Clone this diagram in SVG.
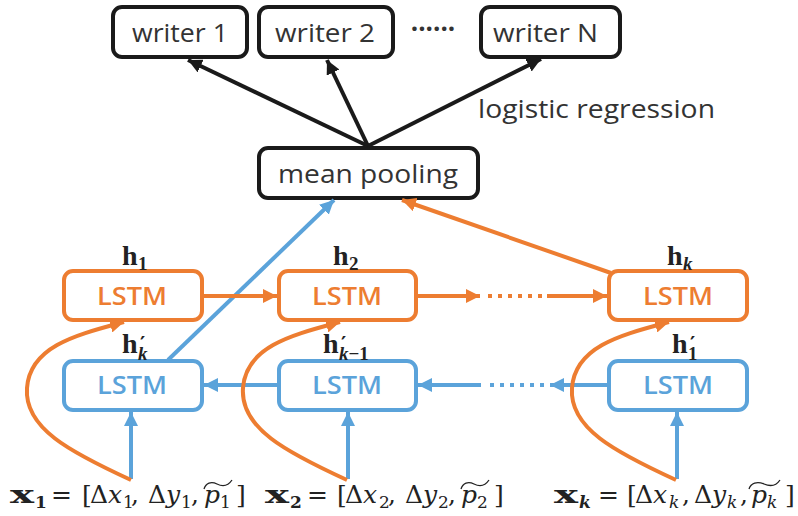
<svg xmlns="http://www.w3.org/2000/svg" width="798" height="516" viewBox="0 0 798 516">
  <style>
    .blk { fill: #fff; stroke: #1a1a1a; stroke-width: 4; }
    .org { fill: #fff; stroke: #ED7D31; stroke-width: 4; }
    .blu { fill: #fff; stroke: #5BA3DA; stroke-width: 4; }
    .lbl { font-family: "Open Sans", "Liberation Sans", sans-serif; font-size: 26px; fill: #333; }
    .lstm { font-family: "Open Sans", "Liberation Sans", sans-serif; font-size: 26px; font-weight: 600; }
    .math { font-family: "Liberation Serif", "DejaVu Serif", serif; font-size: 28px; fill: #222; }
    .vec { font-family: "DejaVu Serif", "Liberation Serif", serif; font-size: 25px; fill: #222; }
    .b { font-weight: bold; }
    .it { font-style: italic; }
    .sub { font-size: 19px; }
    .vec .sub { font-size: 17px; }
    .prm { font-family: "DejaVu Sans", sans-serif; font-size: 20px; font-weight: bold; }
    .lnk { fill: none; stroke-width: 4; }
    .tld { fill: none; stroke: #222; stroke-width: 1.3; }
  </style>
  <defs>
    <marker id="ahK" markerUnits="userSpaceOnUse" markerWidth="16" markerHeight="14" refX="14" refY="7" orient="auto">
      <path d="M0,0 L14,7 L0,14 Z" fill="#1a1a1a"/>
    </marker>
    <marker id="ahO" markerUnits="userSpaceOnUse" markerWidth="16" markerHeight="14" refX="14" refY="7" orient="auto">
      <path d="M0,0 L14,7 L0,14 Z" fill="#ED7D31"/>
    </marker>
    <marker id="ahB" markerUnits="userSpaceOnUse" markerWidth="16" markerHeight="14" refX="14" refY="7" orient="auto">
      <path d="M0,0 L14,7 L0,14 Z" fill="#5BA3DA"/>
    </marker>
  </defs>

  <!-- output classes -->
  <g id="writer1">
    <rect class="blk" x="113" y="7" width="134" height="50" rx="9"/>
    <text class="lbl" x="132" y="42" textLength="96" lengthAdjust="spacingAndGlyphs">writer 1</text>
  </g>
  <g id="writer2">
    <rect class="blk" x="259" y="7" width="134" height="50" rx="9"/>
    <text class="lbl" x="275" y="42" textLength="100" lengthAdjust="spacingAndGlyphs">writer 2</text>
  </g>
  <text class="lbl" x="433" y="38" text-anchor="middle" font-weight="bold">······</text>
  <g id="writerN">
    <rect class="blk" x="481" y="7" width="139" height="50" rx="9"/>
    <text class="lbl" x="493" y="42" textLength="105" lengthAdjust="spacingAndGlyphs">writer N</text>
  </g>
  <text class="lbl" x="478" y="118" textLength="237" lengthAdjust="spacingAndGlyphs">logistic regression</text>

  <g id="meanPooling">
    <rect class="blk" x="259" y="148" width="219" height="50" rx="9"/>
    <text class="lbl" x="278" y="183" textLength="180" lengthAdjust="spacingAndGlyphs">mean pooling</text>
  </g>

  <!-- forward LSTM row -->
  <g id="fwd1">
    <rect class="org" x="64" y="271" width="138" height="49" rx="9"/>
    <text class="lstm" x="97" y="305" textLength="70" lengthAdjust="spacingAndGlyphs" fill="#ED7D31">LSTM</text>
  </g>
  <g id="fwd2">
    <rect class="org" x="279" y="271" width="137" height="49" rx="9"/>
    <text class="lstm" x="312" y="305" textLength="70" lengthAdjust="spacingAndGlyphs" fill="#ED7D31">LSTM</text>
  </g>
  <g id="fwdk">
    <rect class="org" x="609" y="271" width="138" height="49" rx="9"/>
    <text class="lstm" x="643" y="305" textLength="70" lengthAdjust="spacingAndGlyphs" fill="#ED7D31">LSTM</text>
  </g>

  <!-- backward LSTM row -->
  <g id="bwd1">
    <rect class="blu" x="64" y="361" width="138" height="49" rx="9"/>
    <text class="lstm" x="97" y="394" textLength="70" lengthAdjust="spacingAndGlyphs" fill="#5BA3DA">LSTM</text>
  </g>
  <g id="bwd2">
    <rect class="blu" x="279" y="361" width="137" height="49" rx="9"/>
    <text class="lstm" x="312" y="394" textLength="70" lengthAdjust="spacingAndGlyphs" fill="#5BA3DA">LSTM</text>
  </g>
  <g id="bwdk">
    <rect class="blu" x="609" y="361" width="138" height="49" rx="9"/>
    <text class="lstm" x="643" y="394" textLength="70" lengthAdjust="spacingAndGlyphs" fill="#5BA3DA">LSTM</text>
  </g>

  <!-- hidden-state labels -->
  <g id="hiddenLabels" class="math">
    <text><tspan class="b" x="122" y="265">h</tspan><tspan class="b sub" x="138" y="270">1</tspan></text>
    <text><tspan class="b" x="333" y="265">h</tspan><tspan class="b sub" x="349" y="270">2</tspan></text>
    <text><tspan class="b" x="667" y="265">h</tspan><tspan class="b it sub" x="683" y="270">k</tspan></text>

    <text><tspan class="b" x="122" y="353">h</tspan><tspan class="prm" x="140" y="350">′</tspan><tspan class="b it sub" x="138" y="360">k</tspan></text>
    <text><tspan class="b" x="323" y="353">h</tspan><tspan class="prm" x="341" y="350">′</tspan><tspan class="b sub" x="339" y="360"><tspan class="it">k</tspan>−1</tspan></text>
    <text><tspan class="b" x="672" y="353">h</tspan><tspan class="prm" x="690" y="350">′</tspan><tspan class="b sub" x="688" y="360">1</tspan></text>
  </g>

  <!-- input vectors -->
  <g id="inputs" class="vec">
    <text class="b" x="10" y="503" textLength="24" lengthAdjust="spacingAndGlyphs">x</text>
    <text><tspan class="b sub" x="35" y="508">1</tspan><tspan x="51" y="503">=</tspan><tspan x="82">[</tspan><tspan x="90">Δ</tspan><tspan class="it" x="108">x</tspan><tspan class="sub" x="123" y="508">1</tspan><tspan x="131" y="503">,</tspan><tspan x="148">Δ</tspan><tspan class="it" x="166">y</tspan><tspan class="sub" x="181" y="508">1</tspan><tspan x="191" y="503">,</tspan><tspan class="it" x="204">p</tspan><tspan class="sub" x="220" y="508">1</tspan><tspan x="236" y="503">]</tspan></text>
    <path class="tld" d="M204,489 C206,483 211,481 217,484 C223,487 228,486 232,480"/>

    <text class="b" x="265" y="503" textLength="24" lengthAdjust="spacingAndGlyphs">x</text>
    <text><tspan class="b sub" x="290" y="508">2</tspan><tspan x="307" y="503">=</tspan><tspan x="337">[</tspan><tspan x="345">Δ</tspan><tspan class="it" x="363">x</tspan><tspan class="sub" x="379" y="508">2</tspan><tspan x="388" y="503">,</tspan><tspan x="405">Δ</tspan><tspan class="it" x="423">y</tspan><tspan class="sub" x="438" y="508">2</tspan><tspan x="448" y="503">,</tspan><tspan class="it" x="461">p</tspan><tspan class="sub" x="477" y="508">2</tspan><tspan x="494" y="503">]</tspan></text>
    <path class="tld" d="M461,489 C463,483 468,481 474,484 C480,487 485,486 489,480"/>

    <text class="b" x="554" y="503" textLength="24" lengthAdjust="spacingAndGlyphs">x</text>
    <text><tspan class="b it sub" x="579" y="508">k</tspan><tspan x="598" y="503">=</tspan><tspan x="627">[</tspan><tspan x="635">Δ</tspan><tspan class="it" x="653">x</tspan><tspan class="it sub" x="669" y="508">k</tspan><tspan x="682" y="503">,</tspan><tspan x="694">Δ</tspan><tspan class="it" x="712">y</tspan><tspan class="it sub" x="727" y="508">k</tspan><tspan x="740" y="503">,</tspan><tspan class="it" x="751">p</tspan><tspan class="it sub" x="767" y="508">k</tspan><tspan x="785" y="503">]</tspan></text>
    <path class="tld" d="M749,489 C751,483 757,481 764,484 C771,487 776,486 780,480"/>
  </g>

  <!-- connectors -->
  <g id="connectors">
    <!-- logistic regression outputs -->
    <line class="lnk" stroke="#1a1a1a" x1="368" y1="146" x2="188" y2="60" marker-end="url(#ahK)"/>
    <line class="lnk" stroke="#1a1a1a" x1="368" y1="146" x2="327" y2="60" marker-end="url(#ahK)"/>
    <line class="lnk" stroke="#1a1a1a" x1="368" y1="146" x2="541" y2="59" marker-end="url(#ahK)"/>

    <!-- into mean pooling -->
    <line class="lnk" stroke="#5BA3DA" x1="168" y1="360" x2="334" y2="200" marker-end="url(#ahB)"/>
    <line class="lnk" stroke="#ED7D31" x1="611" y1="273" x2="402" y2="200" marker-end="url(#ahO)"/>

    <!-- forward recurrence -->
    <line class="lnk" stroke="#ED7D31" x1="202" y1="296" x2="277" y2="296" marker-end="url(#ahO)"/>
    <line class="lnk" stroke="#ED7D31" x1="416" y1="296" x2="480" y2="296" marker-end="url(#ahO)"/>
    <line class="lnk" stroke="#ED7D31" stroke-dasharray="4 6" x1="488" y1="296" x2="542" y2="296"/>
    <line class="lnk" stroke="#ED7D31" x1="547" y1="296" x2="607" y2="296" marker-end="url(#ahO)"/>

    <!-- backward recurrence -->
    <line class="lnk" stroke="#5BA3DA" x1="279" y1="385" x2="204" y2="385" marker-end="url(#ahB)"/>
    <line class="lnk" stroke="#5BA3DA" x1="481" y1="385" x2="418" y2="385" marker-end="url(#ahB)"/>
    <line class="lnk" stroke="#5BA3DA" stroke-dasharray="4 6" x1="490" y1="385" x2="544" y2="385"/>
    <line class="lnk" stroke="#5BA3DA" x1="609" y1="385" x2="550" y2="385" marker-end="url(#ahB)"/>

    <!-- inputs into backward cells -->
    <line class="lnk" stroke="#5BA3DA" x1="131" y1="479" x2="131" y2="412" marker-end="url(#ahB)"/>
    <line class="lnk" stroke="#5BA3DA" x1="348" y1="479" x2="348" y2="412" marker-end="url(#ahB)"/>
    <line class="lnk" stroke="#5BA3DA" x1="677" y1="479" x2="677" y2="412" marker-end="url(#ahB)"/>

    <!-- inputs into forward cells -->
    <path class="lnk" stroke="#ED7D31" d="M131,480 C70,452 24,428 27,388 C30,345 80,334 124,322" marker-end="url(#ahO)"/>
    <path class="lnk" stroke="#ED7D31" d="M347,480 C286,452 240,428 243,388 C246,345 296,334 340,322" marker-end="url(#ahO)"/>
    <path class="lnk" stroke="#ED7D31" d="M676,480 C615,452 569,428 572,388 C575,345 625,334 669,322" marker-end="url(#ahO)"/>
  </g>
</svg>
